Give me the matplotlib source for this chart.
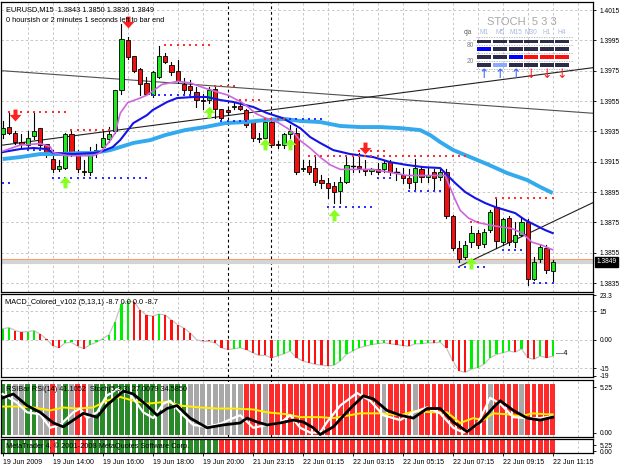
import matplotlib
matplotlib.use('Agg')
import matplotlib.pyplot as plt
import matplotlib.transforms as mtrans
from matplotlib.patches import Rectangle
from matplotlib.path import Path
import numpy as np

plt.rcParams['font.family'] = ['Liberation Sans', 'DejaVu Sans']

# ---------------- data ----------------
time_labels = ['19 Jun 2009', '19 Jun 14:00', '19 Jun 16:00', '19 Jun 18:00', '19 Jun 20:00',
               '21 Jun 23:15', '22 Jun 01:15', '22 Jun 03:15', '22 Jun 05:15', '22 Jun 07:15',
               '22 Jun 09:15', '22 Jun 11:15']
price_ticks = [1.4015, 1.3995, 1.3975, 1.3955, 1.3935, 1.3915, 1.3895, 1.3875, 1.3855, 1.3835]

opens = [1.3933, 1.3938, 1.3934, 1.3928, 1.3926, 1.3932, 1.3937, 1.3927, 1.3917, 1.3910,
         1.3911, 1.3933, 1.3921, 1.3909, 1.3908, 1.3921, 1.3925, 1.3930, 1.3935, 1.3962,
         1.3995, 1.3985, 1.3976, 1.3967, 1.3959, 1.3971, 1.3985, 1.3979, 1.3975, 1.3966,
         1.3965, 1.3961, 1.3956, 1.3956, 1.3963, 1.3950, 1.3949, 1.3951, 1.3952, 1.3949,
         1.3941, 1.3930, 1.3931, 1.3941, 1.3927, 1.3926, 1.3933, 1.3934, 1.3910, 1.3912,
         1.3911, 1.3903, 1.3901, 1.3899, 1.3896, 1.3902, 1.3912, 1.3912, 1.3910, 1.3909,
         1.3910, 1.3910, 1.3915, 1.3908, 1.3906, 1.3904, 1.3902, 1.3910, 1.3905, 1.3908,
         1.3905, 1.3908, 1.3879, 1.3858, 1.3852, 1.3862, 1.3868, 1.3861, 1.3870, 1.3885,
         1.3862, 1.3878, 1.3862, 1.3867, 1.3875, 1.3838, 1.3851, 1.3858, 1.3843]
closes = [1.3937, 1.3934, 1.3928, 1.3927, 1.3931, 1.3935, 1.3926, 1.3921, 1.3910, 1.3912,
          1.3933, 1.3921, 1.3910, 1.3908, 1.3921, 1.3923, 1.3931, 1.3933, 1.3962, 1.3996,
          1.3984, 1.3975, 1.3966, 1.3960, 1.3974, 1.3985, 1.3981, 1.3974, 1.3968, 1.3962,
          1.3962, 1.3956, 1.3955, 1.3962, 1.3950, 1.3944, 1.3948, 1.3952, 1.3950, 1.3939,
          1.3931, 1.3931, 1.3941, 1.3926, 1.3926, 1.3933, 1.3935, 1.3908, 1.3911, 1.3908,
          1.3902, 1.3901, 1.3898, 1.3895, 1.3902, 1.3913, 1.3912, 1.3911, 1.3909, 1.3910,
          1.3908, 1.3914, 1.3908, 1.3908, 1.3904, 1.3901, 1.3911, 1.3905, 1.3906, 1.3904,
          1.3908, 1.3879, 1.3858, 1.3851, 1.3860, 1.3868, 1.3860, 1.3869, 1.3882, 1.3863,
          1.3877, 1.3862, 1.3867, 1.3875, 1.3838, 1.3849, 1.3859, 1.3844, 1.3849]
highs = [1.3942, 1.3947, 1.3935, 1.3933, 1.3935, 1.3947, 1.3937, 1.3927, 1.3923, 1.3916,
         1.3934, 1.3935, 1.3923, 1.3916, 1.3925, 1.3927, 1.3935, 1.3938, 1.3962, 1.4006,
         1.3997, 1.3985, 1.3977, 1.3971, 1.3975, 1.3991, 1.3987, 1.3981, 1.3982, 1.3970,
         1.3969, 1.3964, 1.3960, 1.3964, 1.3965, 1.3950, 1.3950, 1.3954, 1.3956, 1.3950,
         1.3942, 1.3934, 1.3943, 1.3942, 1.3929, 1.3934, 1.3939, 1.3937, 1.3916, 1.3916,
         1.3918, 1.3906, 1.3904, 1.3902, 1.3905, 1.3918, 1.3918, 1.3921, 1.3916, 1.3911,
         1.3914, 1.3916, 1.3916, 1.3911, 1.3911, 1.3910, 1.3917, 1.3912, 1.3911, 1.3910,
         1.3911, 1.3910, 1.3880, 1.3863, 1.3863, 1.3873, 1.3870, 1.3871, 1.3883, 1.3891,
         1.3878, 1.3879, 1.3875, 1.3878, 1.3877, 1.3852, 1.3860, 1.3860, 1.3850]
lows = [1.3931, 1.3933, 1.3927, 1.3924, 1.3925, 1.3930, 1.3925, 1.3918, 1.3908, 1.3909,
        1.3910, 1.3919, 1.3908, 1.3906, 1.3906, 1.3918, 1.3923, 1.3928, 1.3934, 1.3960,
        1.3983, 1.3974, 1.3959, 1.3959, 1.3958, 1.3970, 1.3980, 1.3972, 1.3967, 1.3959,
        1.3958, 1.3951, 1.3950, 1.3954, 1.3944, 1.3942, 1.3946, 1.3950, 1.3949, 1.3938,
        1.3929, 1.3928, 1.3929, 1.3925, 1.3924, 1.3924, 1.3931, 1.3907, 1.3909, 1.3907,
        1.3900, 1.3898, 1.3891, 1.3888, 1.3888, 1.3901, 1.3908, 1.3908, 1.3906, 1.3907,
        1.3907, 1.3908, 1.3906, 1.3903, 1.3901, 1.3898, 1.3896, 1.3902, 1.3902, 1.3896,
        1.3903, 1.3878, 1.3857, 1.3849, 1.3851, 1.3859, 1.3858, 1.3859, 1.3869, 1.3858,
        1.3860, 1.3860, 1.3859, 1.3866, 1.3834, 1.3837, 1.3849, 1.3842, 1.3836]

# moving averages (bar position, price)
purple_x = [0, 2.8, 6, 7.6, 8.1, 10.3, 14.5, 15.6, 17.2, 18, 18.8, 20, 22, 23.1, 25.5, 28, 30, 32, 34.3, 36,
            38.3, 39.3, 40.4, 42, 44, 45.6, 46.8, 47.6, 49.2, 50.8, 52.4, 54, 59.3, 62, 64.7, 70, 70.8, 71.6,
            72.4, 73.2, 74.5, 76, 78.3, 79.9, 81.5, 83.1, 84.7, 86.3, 88]
purple_y = [1.3922, 1.3926, 1.3927, 1.3925, 1.3921, 1.3919, 1.3919, 1.3921, 1.3929, 1.3934, 1.3947, 1.3954,
            1.3957, 1.3959, 1.3966, 1.3968, 1.3967, 1.3964, 1.3961, 1.3959, 1.3954, 1.3951, 1.3947, 1.3944,
            1.3941, 1.3937, 1.3933, 1.3929, 1.3924, 1.3918, 1.3913, 1.3910, 1.3910, 1.3908, 1.3906, 1.3906,
            1.3906, 1.3898, 1.3890, 1.3883, 1.3878, 1.3875, 1.3873, 1.3872, 1.3871, 1.3868, 1.3862, 1.3860,
            1.3857]
blue_x = [0, 2.8, 4.9, 7.1, 8.1, 11.3, 14.5, 15.6, 17.6, 18.8, 20.9, 23.1, 24, 26.3, 27.9, 30.5, 32.7, 34.8,
          36.9, 40.1, 42.3, 44.8, 47.6, 49.2, 50.8, 52.9, 55.6, 59.3, 62, 64.7, 67.3, 70, 70.8, 72.4, 74, 75.6,
          77.2, 78.8, 80.4, 82, 83.6, 85.2, 86.8, 88]
blue_y = [1.39214, 1.39234, 1.39241, 1.39234, 1.39208, 1.39201, 1.39208, 1.39214, 1.39247, 1.39293, 1.39405,
          1.39458, 1.39491, 1.39544, 1.39570, 1.39577, 1.39577, 1.39557, 1.39544, 1.39511, 1.39471, 1.39438,
          1.39372, 1.39313, 1.39274, 1.39227, 1.39201, 1.39181, 1.39148, 1.39129, 1.39115, 1.39109, 1.39076,
          1.39010, 1.38951, 1.38911, 1.38878, 1.38852, 1.38832, 1.38812, 1.38766, 1.38733, 1.38700, 1.38680]
lblue_x = [0, 2.8, 6, 9.2, 12.4, 14.5, 17.2, 20.9, 23.6, 26, 29.2, 32.4, 35.6, 38.8, 42, 45.2, 47.6, 50.8, 54,
           57.2, 60.4, 63.6, 66.8, 68.4, 70, 72.1, 74.8, 77.5, 80.7, 83.9, 86, 88]
lblue_y = [1.39168, 1.39181, 1.39201, 1.39201, 1.39208, 1.39208, 1.39227, 1.39274, 1.39293, 1.39326, 1.39359,
           1.39379, 1.39405, 1.39412, 1.39425, 1.39432, 1.39419, 1.39412, 1.39386, 1.39379, 1.39379, 1.39372,
           1.39359, 1.39326, 1.39280, 1.39227, 1.39181, 1.39135, 1.39076, 1.39030, 1.38984, 1.38944]

# trend lines: (bar0, price0, bar1, price1)
trend_lines = [(0, 1.3975, 94.4, 1.3947), (0, 1.3926, 94.4, 1.3977), (73, 1.3846, 94.4, 1.3888)]
# dotted levels: (first bar, last bar, price)
red_levels = [(1, 10, 1.3948), (11, 17, 1.3936), (26, 33, 1.3992), (34, 37, 1.3965), (38, 41, 1.3956),
              (42, 48, 1.3943), (49, 74, 1.3919), (57, 61, 1.3922), (75, 76, 1.3875), (79, 88, 1.3891)]
blue_levels = [(0, 1, 1.3901), (4, 6, 1.3923), (8, 23, 1.3904), (24, 31, 1.3959), (35, 39, 1.3942),
               (46, 51, 1.3943), (52, 59, 1.3885), (60, 62, 1.3904), (65, 70, 1.3896), (73, 77, 1.3846),
               (80, 83, 1.3857), (85, 88, 1.3835)]
down_arrows_x = [2, 20, 58]
down_arrows_y = [1.3946, 1.4007, 1.3924]
up_arrows_x = [10, 33, 42, 46, 53, 75]
up_arrows_y = [1.3902, 1.3948, 1.3927, 1.3927, 1.3880, 1.3848]
bid_price = 1.3849
ask_line = 1.3851
day_separators = [36, 43]

macd_vals = [5.7, 6.4, 4.8, 4.0, 4.3, 4.8, 2.9, 0.3, -3.1, -4.3, -1.7, -1.4, -3.5, -4.7, -2.6, -1.4, 0.5, 2.6,
             9.5, 19.0, 20.3, 20.0, 15.5, 13.0, 12.4, 13.5, 13.0, 10.4, 7.8, 6.1, 3.5, 0.0, -0.9, -0.9, -1.7,
             -4.3, -5.2, -4.8, -4.3, -5.2, -6.9, -8.3, -8.3, -9.5, -8.6, -7.4, -6.0, -9.5, -11.2, -12.1, -13.0,
             -13.5, -13.8, -13.5, -11.2, -7.8, -6.0, -4.3, -3.5, -2.6, -2.1, -1.7, -2.2, -2.6, -3.1, -3.5, -2.2,
             -2.1, -1.7, -1.7, -1.4, -4.3, -11.2, -16.4, -17.3, -15.5, -14.7, -13.0, -9.5, -7.8, -6.9, -6.0,
             -6.6, -4.8, -9.5, -10.4, -8.6, -9.5, -8.7]

rsi_colors = ("GGSSGGSS" "RSGSRR" "S" "GGGGGGGGGGG" "S" "GGG" "SSSSSSSSS" "RRR" "S"
              "RRRRRRRRRRRRRRRRRR" "S" "RRRR" "S" "RRRRRRRRRRR" "S" "RRRR" "S" "RRRRR")
hist_colors = ("GGGGGGGG" "R" "GGG" "RR" "GGGGGGGGGGGGGGGGGGGGG"
               "RRRRRRRRRRRRRRRRRRRRRRRRRRRRRRRRRRRRRRRRRRRRRRRRRRRRRR")

yellow_x = [0, 2.8, 4.9, 7.6, 9.7, 11.9, 14.5, 16.6, 18.8, 20.9, 23.1, 26.3, 28.4, 31.6, 34.3, 36.9, 40.1,
            42.3, 45.5, 47.6, 50.8, 52.9, 57.2, 60.4, 63.6, 65.7, 68.9, 71.1, 73.2, 75.3, 76.9, 78.5, 80.7,
            82.8, 84.9, 87.1, 88]
yellow_v = [3.02, 3.02, 2.91, 2.57, 2.91, 2.79, 2.91, 3.69, 4.13, 3.69, 3.35, 3.58, 3.13, 2.91, 2.79, 2.79,
            2.68, 2.35, 2.12, 1.79, 1.79, 1.68, 2.23, 2.23, 2.01, 2.46, 2.35, 2.35, 1.12, 1.68, 1.45, 2.23,
            2.12, 1.90, 2.23, 2.12, 2.12]
white_x = [0, 2.3, 3.9, 6, 7.6, 9.2, 11.3, 12.4, 13.5, 15.1, 16.6, 18.3, 20.4, 22.5, 24.1, 25.7, 26.8, 28.4,
           30.5, 32.7, 34.8, 36.9, 38, 40.1, 42.3, 44.4, 46, 47.6, 49.2, 50.8, 51.9, 54, 56.7, 58.8, 60.9,
           63.6, 65.7, 67.9, 70, 72.1, 73.7, 75.9, 78, 79.6, 81.7, 83.9, 86, 88]
white_v = [4.47, 3.46, 2.35, 2.12, 0.56, 0.89, 2.35, 2.79, 1.68, 2.35, 4.25, 5.03, 4.47, 2.35, 1.68, 3.35,
           3.69, 2.35, 0.89, 0.67, 1.01, 1.68, 2.01, 0.56, 0.89, 1.12, 2.01, 0.56, 0.0, 0.0, 1.23, 3.13, 4.58,
           3.69, 2.01, 1.45, 2.35, 2.91, 2.23, 0.56, 0.0, 0.89, 4.02, 3.35, 1.79, 1.68, 1.68, 1.90]
black_x = [0, 1.7, 3.9, 6, 8.1, 9.7, 11.3, 12.9, 15.1, 16.6, 19.3, 20.9, 23.1, 24.7, 26.3, 27.9, 30, 32.7,
           35.3, 38, 39.1, 40.7, 42.3, 44.4, 46.5, 48.1, 49.7, 50.8, 52.9, 55.6, 57.7, 59.3, 61.5, 63.6, 65.7,
           67.9, 70, 72.1, 74.3, 76.4, 78.5, 79.6, 81.7, 83.9, 86, 88]
black_v = [4.02, 4.47, 3.13, 2.35, 1.12, 0.67, 1.45, 2.23, 1.79, 3.13, 4.80, 4.47, 3.13, 2.01, 2.79, 3.13,
           1.68, 0.56, 0.89, 1.12, 1.68, 1.23, 0.89, 1.12, 1.45, 1.23, 0.56, -0.22, 0.67, 2.79, 4.25, 3.91,
           2.57, 2.01, 1.68, 2.79, 2.79, 1.23, 0.11, 1.23, 2.91, 3.69, 2.57, 1.68, 1.45, 1.79]

stoch_tf = ['M1', 'M5', 'M15', 'M30', 'H1', 'H4']
stoch_cells = [['D', 'D', 'D', 'D', 'D', 'D'],
               ['B', 'D', 'D', 'D', 'D', 'D'],
               ['D', 'D', 'B', 'R', 'R', 'R'],
               ['D', 'L', 'D', 'D', 'D', 'D']]
stoch_dir = ['up', 'up', 'up', 'dn', 'dn', 'dn']

# ---------------- figure / layout ----------------
W, H = 625, 469
fig = plt.figure(figsize=(W / 100, H / 100), dpi=100)
fig.patch.set_facecolor('white')


def px_axes(x0, y0, x1, y1):
    return fig.add_axes([x0 / W, 1 - y1 / H, (x1 - x0) / W, (y1 - y0) / H])


XL = (-0.27, 94.45)
ax = px_axes(1, 2, 593, 292)
axm = px_axes(1, 293.5, 593, 377)
axr = px_axes(1, 379.5, 593, 436.5)
axh = px_axes(1, 438.5, 593, 453)
panels = [ax, axm, axr, axh]

GRID = '#ccc4c4'
for a in panels:
    a.set_xlim(*XL)
    a.set_facecolor('white')
    for s in a.spines.values():
        s.set_color('black')
        s.set_linewidth(0.9)
    a.tick_params(axis='x', bottom=False, labelbottom=False)
    a.yaxis.tick_right()
    a.tick_params(axis='y', direction='out', length=2.5, width=0.6, labelsize=4.8, pad=2, colors='black')
    for b in range(4, 94, 4):
        if b not in day_separators:
            a.axvline(b, color=GRID, lw=0.7, ls=(0, (2.5, 2.5)), zorder=0.5)
    for b in day_separators:
        a.axvline(b, color='black', lw=0.8, ls=(0, (2.5, 2.5)), zorder=0.6)

n = len(opens)
xs = np.arange(n)

# ---------------- main price panel ----------------
ax.set_ylim(1.38292, 1.40203)
ax.set_yticks(price_ticks)
ax.set_yticklabels([f'{p:.4f}' for p in price_ticks])
for p in price_ticks:
    ax.axhline(p, color=GRID, lw=0.7, ls=(0, (2.5, 2.5)), zorder=0.5)

ax.axhline(bid_price, color='#d4d4d4', lw=3, zorder=0.8)
ax.axhline(ask_line, color='#ff9966', lw=0.7, zorder=0.8)

for (b0, p0, b1, p1), c in zip(trend_lines, ['#505050', '#202020', '#202020']):
    ax.plot([b0, b1], [p0, p1], color=c, lw=0.8, zorder=1)

for i in range(n):
    o, c, h, l = opens[i], closes[i], highs[i], lows[i]
    ax.plot([i, i], [l, h], color='black', lw=0.8, zorder=2)
    if abs(c - o) < 0.00005:
        ax.plot([i - 0.35, i + 0.35], [o, o], color='black', lw=1.0, zorder=3)
    else:
        fc = '#1ee81e' if c > o else '#f01010'
        ax.add_patch(Rectangle((i - 0.33, min(o, c)), 0.66, abs(c - o), facecolor=fc,
                               edgecolor='black', lw=0.6, zorder=3))

ax.plot(lblue_x, lblue_y, color='#33aaee', lw=2.8, zorder=4, solid_capstyle='butt')
ax.plot(blue_x, blue_y, color='#1414e6', lw=1.5, zorder=4)
ax.plot(purple_x, purple_y, color='#cc66dd', lw=1.2, zorder=4)

for s, e, p in red_levels:
    bb = np.arange(s, e + 1)
    ax.plot(bb, [p] * len(bb), ls='none', marker='s', ms=1.7, color='#ff3030', mew=0, zorder=5)
for s, e, p in blue_levels:
    bb = np.arange(s, e + 1)
    ax.plot(bb, [p] * len(bb), ls='none', marker='s', ms=1.7, color='#3030ff', mew=0, zorder=5)

dv = [(-0.17, 0.5), (0.17, 0.5), (0.17, 0.05), (0.5, 0.05), (0, -0.5), (-0.5, 0.05), (-0.17, 0.05), (-0.17, 0.5)]
codes = [Path.MOVETO] + [Path.LINETO] * 6 + [Path.CLOSEPOLY]
down_path = Path(dv, codes)
up_path = Path([(x, -y) for x, y in dv], codes)
ax.plot(down_arrows_x, down_arrows_y, ls='none', marker=down_path, ms=8.5, color='#ff2020', mew=0, zorder=6)
ax.plot(up_arrows_x, up_arrows_y, ls='none', marker=up_path, ms=8.5, color='#88ff22', mew=0, zorder=6)

ax.text(0.008, 0.985, 'EURUSD,M15  1.3843 1.3850 1.3836 1.3849', transform=ax.transAxes,
        fontsize=5.3, va='top', ha='left', zorder=10)
ax.text(0.008, 0.947, '0 hoursish or 2 minutes 1 seconds left to bar end', transform=ax.transAxes,
        fontsize=5.3, va='top', ha='left', zorder=10)
trans_r = mtrans.blended_transform_factory(ax.transAxes, ax.transData)
ax.text(1.006, bid_price, f'{bid_price:.4f}', transform=trans_r, fontsize=4.8, color='white',
        va='center', ha='left', zorder=10, clip_on=False,
        bbox=dict(boxstyle='square,pad=0.25', fc='black', ec='black'))

# ---------------- MACD panel ----------------
axm.set_ylim(-19.7, 24.35)
axm.set_yticks([23.3, 15, 0, -15, -19])
axm.set_yticklabels(['23.3', '15', '0.00', '-15', '-19'])
for v in [15, 0, -15]:
    axm.axhline(v, color=GRID, lw=0.7, ls=(0, (2.5, 2.5)), zorder=0.5)
axm.plot(xs, macd_vals, color='#c4c4c4', lw=0.9, zorder=1)
mcol = ['#00ee00' if (i > 0 and macd_vals[i] > macd_vals[i - 1]) or (i == 0) else '#ff1010' for i in range(n)]
axm.bar(xs, macd_vals, width=0.36, color=mcol, zorder=2)
axm.text(0.006, 0.93, 'MACD_Colored_v102 (5,13,1) -8.7 0.0 0.0 -8.7', transform=axm.transAxes,
         fontsize=5.3, va='top', ha='left', zorder=10)
axm.text(88.6, macd_vals[-1] + 1.5, '\u20144', fontsize=5.3, va='center', ha='left', zorder=10)

# ---------------- RSI bar panel ----------------
cmap = {'G': '#2a8a2a', 'S': '#a8a8a8', 'R': '#ff2a2a'}
axr.set_ylim(-0.45, 6.15)
axr.set_yticks([5.25, 0.0])
axr.set_yticklabels(['5.25', '0.00'])
axr.bar(xs, [5.8] * n, bottom=-0.22, width=0.78, color=[cmap[c] for c in rsi_colors], zorder=1)
axr.plot(yellow_x, yellow_v, color='#ffee00', lw=1.4, zorder=2)
axr.plot(white_x, white_v, color='white', lw=1.6, zorder=3)
axr.plot(black_x, black_v, color='black', lw=2.0, zorder=4)
axr.text(0.008, 0.88, 'RSIBar RSI(14) 41.1052  Stoch(5,3,3) 27.0079 34.5850', transform=axr.transAxes,
         fontsize=5.3, va='top', ha='left', zorder=10)

# ---------------- Hist panel ----------------
axh.set_ylim(-1.75, 10.94)
axh.set_yticks([5.25, 0.0])
axh.set_yticklabels(['5.25', '0.00'])
axh.bar(xs, [12.7] * n, bottom=-1.75, width=0.78, color=[cmap[c] for c in hist_colors], zorder=1)
axh.text(0.008, 0.5, 'MetaTrader 4, \u00a9 2001-2008 MetaQuotes Software Corp.', transform=axh.transAxes,
         fontsize=5.3, va='center', ha='left', zorder=10)
tick_pos = list(range(0, 89, 8))
axh.set_xticks(tick_pos)
axh.set_xticklabels(time_labels, ha='left')
axh.tick_params(axis='x', bottom=True, labelbottom=True, direction='out', length=2, width=0.6,
                labelsize=5.0, pad=2)

# ---------------- STOCH widget overlay ----------------
ov = fig.add_axes([0, 0, 1, 1], zorder=20)
ov.set_xlim(0, W)
ov.set_ylim(H, 0)
ov.axis('off')
ov.patch.set_alpha(0)
ov.text(522, 22, 'STOCH  5 3 3', fontsize=8, color='#a8a8a8', ha='center', va='center')
col_x = [484, 500, 516, 531, 547, 562]
row_y = [41.7, 49.3, 57.3, 65.0]
ov.text(468, 33, 'cja', fontsize=4.8, color='#606060', ha='center', va='center')
for cx, tf in zip(col_x, stoch_tf):
    ov.text(cx, 33, tf, fontsize=4.8, color='#a8bce0', ha='center', va='center')
ov.text(470, 45.5, '80', fontsize=4.8, color='#808080', ha='center', va='center')
ov.text(470, 61.3, '20', fontsize=4.8, color='#808080', ha='center', va='center')
for yy in [37.3, 45.5, 53.3, 61.5, 69.3]:
    ov.plot([476, 573], [yy, yy], color='#b0b0b0', lw=0.6, ls=(0, (1.5, 1.5)))
ccol = {'D': '#2c2c48', 'B': '#0000ff', 'R': '#ff1010', 'L': '#88aaff'}
for r, ry in enumerate(row_y):
    for c, cx in enumerate(col_x):
        ov.add_patch(Rectangle((cx - 7, ry - 1.8), 14, 3.6, facecolor=ccol[stoch_cells[r][c]],
                               edgecolor='none'))
for cx, d in zip(col_x, stoch_dir):
    if d == 'up':
        ov.text(cx, 75, '\u2191', fontsize=9, color='#3366ff', ha='center', va='center',
                family='DejaVu Sans')
    else:
        ov.text(cx, 75, '\u2193', fontsize=9, color='#ff2020', ha='center', va='center',
                family='DejaVu Sans')

fig.savefig('out.png', dpi=100, facecolor='white')
